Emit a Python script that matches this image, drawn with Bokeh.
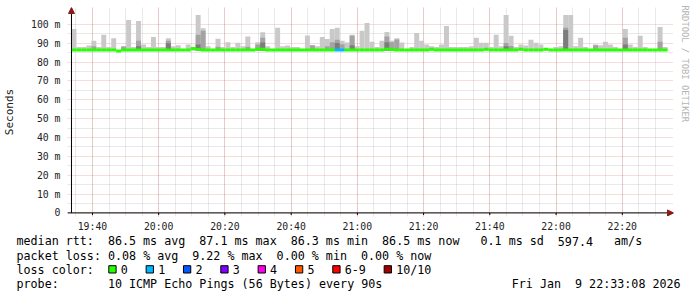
import re
import numpy as np
import pandas as pd
from bokeh.plotting import figure
from bokeh.layouts import column
from bokeh.models import (FixedTicker, DatetimeTickFormatter, Title, Arrow,
                          NormalHead, ColumnDataSource, Range1d)
from bokeh.core.properties import value
from bokeh.embed import file_html
from bokeh.resources import INLINE

# ---------------- data ----------------
START = "2026-01-09 19:33:40"
STEP_S = 90

# highest ping per 90 s step (ms) -> light smoke
ping_max = [
    97.6, 88, 88, 88.8, 91.3, 88, 94.5, 88, 92.7, 86.5,
    88.5, 102.4, 88, 101.8, 89.4, 88, 93.4, 88, 88, 92.7,
    88.5, 89, 86.5, 89.4, 87.5, 105, 98, 88.5, 86.5, 92.4,
    88, 90.6, 88, 90.3, 88.5, 93.6, 87, 90.6, 95.9, 88.5,
    86.5, 98.2, 88.5, 88.8, 88, 88, 86.5, 94.1, 89, 88.5,
    93.4, 92.3, 97.6, 98.2, 91.3, 90.4, 94.5, 88.5, 96.6, 100.8,
    90.8, 88, 91.3, 96, 91.3, 92.7, 90.4, 86.5, 88, 95.5,
    91.3, 89.4, 88.5, 88, 89.4, 99.2, 88, 88, 88, 88,
    88.5, 92.9, 90.3, 90.3, 88, 94.6, 88.5, 105, 94, 88,
    89.4, 88.8, 91.9, 90.3, 89.4, 86.5, 86.5, 88, 88.5, 105,
    105, 88.5, 92.9, 88, 86.5, 89.4, 89, 90.8, 89.4, 88,
    86.5, 97.6, 89.4, 88, 94, 88, 86.5, 86.5, 98.7, 88,
]

# second band (ms), 0 = none -> mid smoke
ping_mid = [
    0, 0, 0, 0, 88.4, 0, 0, 0, 0, 0,
    88.3, 0, 0, 91.3, 0, 0, 0, 0, 0, 91.3,
    0, 0, 0, 0, 0, 94.5, 96.6, 0, 0, 88.2,
    0, 0, 0, 0, 0, 88.2, 0, 89.4, 93.0, 0,
    0, 0, 0, 0, 0, 0, 0, 0, 89.0, 0,
    0, 88.4, 90.6, 91.9, 89.5, 0, 94.0, 0, 0, 0,
    0, 0, 0, 93.6, 90.5, 92.0, 0, 0, 0, 0,
    0, 0, 0, 0, 0, 0, 0, 0, 0, 0,
    0, 0, 0, 0, 0, 0, 0, 90.2, 88.6, 0,
    0, 0, 0, 0, 0, 0, 0, 0, 0, 98.2,
    0, 0, 0, 0, 0, 89.0, 0, 0, 0, 0,
    0, 92.9, 0, 0, 0, 0, 0, 0, 90.8, 0,
]

# inner band (ms), 0 = none -> dark smoke
ping_dark = [
    0, 0, 0, 0, 0, 0, 0, 0, 0, 0,
    0, 0, 0, 88.5, 0, 0, 0, 0, 0, 90.0,
    0, 0, 0, 0, 0, 89.4, 0, 0, 0, 0,
    0, 0, 0, 0, 0, 0, 0, 0, 90.4, 0,
    0, 0, 0, 0, 0, 0, 0, 0, 0, 0,
    0, 0, 0, 90.2, 0, 0, 89.0, 0, 0, 0,
    0, 0, 0, 90.5, 0, 0, 0, 0, 0, 0,
    0, 0, 0, 0, 0, 0, 0, 0, 0, 0,
    0, 0, 0, 0, 0, 0, 0, 88.5, 0, 0,
    0, 0, 0, 0, 0, 0, 0, 0, 0, 97.0,
    0, 0, 0, 0, 0, 0, 0, 0, 0, 0,
    0, 89.4, 0, 0, 0, 0, 0, 0, 0, 0,
]

# median rtt per step (ms)
median_rtt = [
    86.5, 86.5, 86.5, 86.5, 86.5, 86.5, 86.5, 86.5, 86.5, 85.9,
    86.5, 86.5, 86.5, 86.5, 86.5, 86.5, 86.5, 86.5, 86.5, 86.5,
    86.5, 86.5, 86.5, 86.5, 87.3, 86.7, 86.5, 86.5, 86.5, 86.5,
    86.5, 86.5, 86.5, 86.5, 86.5, 86.5, 86.5, 86.9, 86.9, 86.5,
    86.5, 86.5, 86.5, 86.5, 86.5, 86.5, 86.5, 86.5, 86.5, 86.5,
    86.5, 86.5, 86.5, 86.5, 86.5, 86.5, 86.5, 86.5, 86.5, 86.5,
    86.5, 86.5, 86.5, 86.9, 86.7, 86.5, 86.5, 86.5, 86.5, 86.5,
    86.5, 86.5, 86.9, 86.5, 86.5, 86.5, 86.5, 86.5, 86.5, 86.5,
    86.5, 86.5, 86.5, 86.9, 86.5, 86.5, 86.5, 86.5, 86.5, 86.5,
    86.9, 86.5, 86.5, 86.5, 86.5, 86.9, 86.5, 86.5, 86.5, 86.5,
    86.5, 86.5, 86.5, 86.5, 86.5, 86.5, 86.5, 86.5, 86.5, 86.5,
    86.5, 86.5, 86.5, 86.5, 86.5, 86.5, 86.5, 86.5, 86.5, 86.5,
]

# lost pings (of 10) per step
loss_count = [0] * 53 + [1, 1] + [0] * 65

y_ticks = [0, 10, 20, 30, 40, 50, 60, 70, 80, 90, 100]
y_tick_labels = ["0", "10 m", "20 m", "30 m", "40 m", "50 m", "60 m",
                 "70 m", "80 m", "90 m", "100 m"]
x_tick_times = ["19:40", "20:00", "20:20", "20:40", "21:00", "21:20",
                "21:40", "22:00", "22:20"]

loss_labels = ["0", "1", "2", "3", "4", "5", "6-9", "10/10"]
loss_colors = ["#26ff00", "#00b8ff", "#0059ff", "#7e00ff", "#ff00ea",
               "#ff5600", "#ff0000", "#a10000"]

legend_lines = [
    "median rtt:  86.5 ms avg  87.1 ms max  86.3 ms min  86.5 ms now   0.1 ms sd  597.4   am/s",
    "packet loss: 0.08 % avg  9.22 % max  0.00 % min  0.00 % now",
    "loss color:",
    "probe:       10 ICMP Echo Pings (56 Bytes) every 90s",
]
stamp = "Fri Jan  9 22:33:08 2026"
watermark = "RRDTOOL / TOBI OETIKER"

# ---------------- helpers ----------------
def loss_idx(c):
    if c <= 5:
        return c
    if c < 10:
        return 6
    return 7

def tokens(line):
    return [(m.start(), m.group()) for m in re.finditer(r"\S+(?: \S+)*", line)]

FONT = "DejaVu Sans Mono"
t0 = pd.Timestamp(START)
n = len(ping_max)
t_left = t0 + pd.to_timedelta(np.arange(n) * STEP_S, unit="s")
t_right = t_left + pd.Timedelta(seconds=STEP_S)
t_end = t0 + pd.Timedelta(hours=3)
x_pad = pd.Timedelta(minutes=1.8)
x_lpad = pd.Timedelta(minutes=1.2)

def ms(ts):
    return pd.Timestamp(ts).value / 1e6

day = "2026-01-09 "
major_ts = [pd.Timestamp(day + t) for t in x_tick_times]
major = [ms(t) for t in major_ts]
minor = [ms(pd.Timestamp(day + "19:35") + pd.Timedelta(minutes=5 * k)) for k in range(36)]

# ---------------- main plot ----------------
TOP_H = 234
Y_TOP = 109.0
Y_BOT = -1.9
p = figure(width=697, height=TOP_H, x_axis_type="datetime",
           x_range=Range1d(t0 - x_lpad, t_end + x_pad), y_range=Range1d(Y_BOT, Y_TOP),
           output_backend="svg", toolbar_location=None,
           min_border_left=63, min_border_right=24, min_border_top=7,
           min_border_bottom=16)
p.frame_align = False
p.outline_line_color = None
p.background_fill_color = "white"
p.border_fill_color = "white"

base = 86.0
src_l = ColumnDataSource(dict(l=t_left, r=t_right, b=[base] * n, t=ping_max))
p.quad(left="l", right="r", bottom="b", top="t", source=src_l,
       fill_color="#c9c9c9", line_color=None)
mi = [i for i in range(n) if ping_mid[i] > 0]
src_m = ColumnDataSource(dict(l=t_left[mi], r=t_right[mi], b=[base] * len(mi),
                              t=[ping_mid[i] for i in mi]))
p.quad(left="l", right="r", bottom="b", top="t", source=src_m,
       fill_color="#a3a3a3", line_color=None)
di = [i for i in range(n) if ping_dark[i] > 0]
src_d = ColumnDataSource(dict(l=t_left[di], r=t_right[di], b=[base] * len(di),
                              t=[ping_dark[i] for i in di]))
p.quad(left="l", right="r", bottom="b", top="t", source=src_d,
       fill_color="#7c7c7c", line_color=None)

src_med = ColumnDataSource(dict(x0=t_left, x1=t_right, y=median_rtt,
                                c=[loss_colors[loss_idx(c)] for c in loss_count]))
p.segment(x0="x0", y0="y", x1="x1", y1="y", color="c", line_width=3,
          line_cap="butt", source=src_med)

# axis lines and small tick marks drawn through the scales
p.segment(x0=[t0 - x_lpad, t0], y0=[0, 0], x1=[t_end + x_pad, t0], y1=[0, Y_TOP],
          line_color="#000000", line_width=1)
p.segment(x0=major_ts, y0=[0] * len(major_ts), x1=major_ts, y1=[-1.1] * len(major_ts),
          line_color="#000000", line_width=1)

# axes
xt = FixedTicker(ticks=major, minor_ticks=minor)
p.xaxis.ticker = xt
p.xgrid.ticker = xt
fmt = "%H:%M"
p.xaxis.formatter = DatetimeTickFormatter(minsec=fmt, minutes=fmt, hourmin=fmt,
                                          hours=fmt, seconds=fmt, days=fmt)
yt = FixedTicker(ticks=y_ticks, minor_ticks=[5 + 10 * k for k in range(10)])
p.yaxis.ticker = yt
p.ygrid.ticker = yt
p.yaxis.major_label_overrides = {v: s for v, s in zip(y_ticks, y_tick_labels)}

for ax in (p.xaxis[0], p.yaxis[0]):
    ax.axis_line_color = None
    ax.major_tick_line_color = None
    ax.major_tick_out = 0
    ax.major_tick_in = 0
    ax.minor_tick_line_color = None
    ax.major_label_text_font = FONT
    ax.major_label_text_font_size = "9.8px"
    ax.major_label_text_color = "#222222"
p.xaxis.major_label_standoff = 0
p.yaxis.major_label_standoff = 3
p.yaxis.axis_label = "Seconds"
p.yaxis.axis_label_text_font = FONT
p.yaxis.axis_label_text_font_size = "11px"
p.yaxis.axis_label_text_font_style = "normal"
p.yaxis.axis_label_text_color = "#222222"
p.yaxis.axis_label_standoff = 12

for g in (p.xgrid[0], p.ygrid[0]):
    g.grid_line_color = "#e06060"
    g.grid_line_alpha = 0.45
    g.grid_line_dash = "1 1"
    g.minor_grid_line_color = "#909090"
    g.minor_grid_line_alpha = 0.4
    g.minor_grid_line_dash = "1 1"

arrow_c = "#8b1a1a"
p.add_layout(Arrow(end=NormalHead(size=6, fill_color=arrow_c, line_color=arrow_c),
                   x_start=t0, y_start=Y_TOP - 6, x_end=t0, y_end=Y_TOP,
                   line_alpha=0))
p.add_layout(Arrow(end=NormalHead(size=6, fill_color=arrow_c, line_color=arrow_c),
                   x_start=t_end, y_start=0, x_end=t_end + x_pad, y_end=0,
                   line_alpha=0))

p.add_layout(Title(text=watermark, text_font=FONT, text_font_size="8.8px",
                   text_font_style="normal", text_color="#b4b4b4",
                   align="left", vertical_align="top", offset=-2, standoff=8),
             "right")

# ---------------- legend block ----------------
BOT_H = 297 - TOP_H
q = figure(width=697, height=BOT_H, x_range=Range1d(0, 697), y_range=Range1d(BOT_H, 0),
           output_backend="svg", toolbar_location=None,
           min_border=0, min_border_left=0, min_border_right=0,
           min_border_top=0, min_border_bottom=0)
q.frame_align = False
q.axis.visible = False
q.grid.visible = False
q.outline_line_color = None
q.background_fill_color = "white"
q.border_fill_color = "white"

CW = 7.03
X0 = 16
line_y = [v - TOP_H for v in (240.7, 255.0, 269.0, 283.3)]
tx, ty, tt = [], [], []
for ly, line in zip(line_y, legend_lines):
    for col, tok in tokens(line):
        tx.append(X0 + col * CW)
        ty.append(ly)
        tt.append(tok)
stamp_x0 = 680 - len(stamp) * CW
for col, tok in tokens(stamp):
    tx.append(stamp_x0 + col * CW)
    ty.append(line_y[3])
    tt.append(tok)

sx, lx = [], []
x = 108.3
for lab in loss_labels:
    sx.append(x)
    lx.append(x + 12)
    x += 12 + CW * len(lab) + 18.3
tx += lx
ty += [line_y[2]] * len(lx)
tt += loss_labels

q.quad(left=sx, right=[v + 7.3 for v in sx], top=[line_y[2] - 3.8] * len(sx),
       bottom=[line_y[2] + 3.5] * len(sx), fill_color=loss_colors,
       line_color="#000000", line_width=1)
q.text(x=tx, y=ty, text=tt, text_font=value(FONT),
       text_font_size=value("11.7px"), text_baseline="middle",
       text_align="left", text_color="#000000")

layout = column(p, q, spacing=0)
open("out.html", "w").write(file_html(layout, INLINE))
